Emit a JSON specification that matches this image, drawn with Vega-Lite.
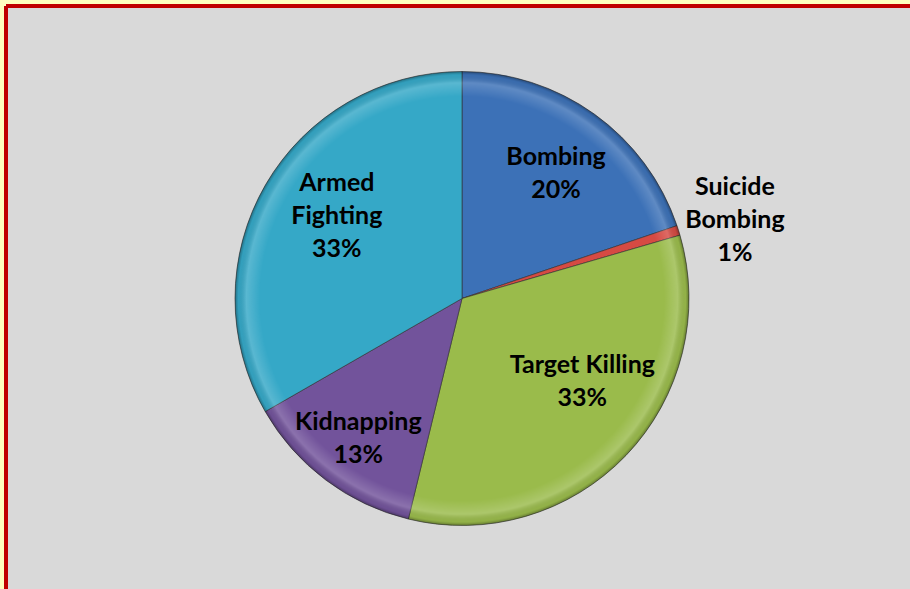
{
  "$schema": "https://vega.github.io/schema/vega-lite/v6.json",
  "autosize": {"type": "none"},
  "width": 912,
  "height": 585,
  "padding": {"left": 6, "top": 6, "right": -8, "bottom": -2},
  "background": "#ffffbf",
  "view": {"fill": "#d9d9d9", "stroke": "#c00000", "strokeWidth": 4, "strokeDash": [912, 1497, 585, 0]},
  "config": {
    "text": {"font": "Lato", "fontWeight": "bold", "fontSize": 25, "lineHeight": 33, "lineBreak": "\n", "fill": "#000000", "align": "center", "baseline": "middle"}
  },
  "datasets": {
    "slices": [
      {"k": 1, "category": "Bombing", "value": 19.8, "label": "Bombing\n20%"},
      {"k": 2, "category": "Suicide Bombing", "value": 0.7, "label": "Suicide\nBombing\n1%"},
      {"k": 3, "category": "Target Killing", "value": 33.3, "label": "Target Killing\n33%"},
      {"k": 4, "category": "Kidnapping", "value": 12.9, "label": "Kidnapping\n13%"},
      {"k": 5, "category": "Armed Fighting", "value": 33.3, "label": "Armed\nFighting\n33%"}
    ],
    "whole": [{"v": 1}]
  },
  "layer": [
    {
      "data": {"name": "slices"},
      "mark": {"type": "arc", "radius": 227, "stroke": "#303030", "strokeWidth": 1, "strokeOpacity": 0.6},
      "encoding": {
        "theta": {"field": "value", "type": "quantitative", "stack": true},
        "order": {"field": "k", "type": "quantitative"},
        "color": {
          "field": "category", "type": "nominal", "legend": null,
          "scale": {
            "domain": ["Bombing", "Suicide Bombing", "Target Killing", "Kidnapping", "Armed Fighting"],
            "range": ["#3c71b7", "#d64a43", "#9abb4b", "#72539b", "#35a8c7"]
          }
        }
      }
    },
    {
      "data": {"name": "whole"},
      "mark": {
        "type": "arc", "radius": 227,
        "fill": {
          "gradient": "radial", "x1": 0.5, "y1": 0.5, "r1": 0, "x2": 0.5, "y2": 0.5, "r2": 0.5,
          "stops": [
            {"offset": 0, "color": "rgba(255,255,255,0)"},
            {"offset": 0.89, "color": "rgba(255,255,255,0)"},
            {"offset": 0.95, "color": "rgba(255,255,255,0.18)"},
            {"offset": 0.985, "color": "rgba(0,0,0,0.05)"},
            {"offset": 1, "color": "rgba(0,0,0,0.35)"}
          ]
        }
      },
      "encoding": {
        "theta": {"field": "v", "type": "quantitative", "stack": true}
      }
    },
    {
      "data": {"name": "slices"},
      "mark": {"type": "text", "radius": 158, "dx": 2, "dy": -13},
      "encoding": {
        "theta": {"field": "value", "type": "quantitative", "stack": true},
        "order": {"field": "k", "type": "quantitative"},
        "text": {"condition": {"test": "datum.k == 1", "field": "label"}, "value": ""}
      }
    },
    {
      "data": {"name": "slices"},
      "mark": {"type": "text", "radius": 150, "dx": 12, "dy": -37.5},
      "encoding": {
        "theta": {"field": "value", "type": "quantitative", "stack": true},
        "order": {"field": "k", "type": "quantitative"},
        "text": {"condition": {"test": "datum.k == 3", "field": "label"}, "value": ""}
      }
    },
    {
      "data": {"name": "slices"},
      "mark": {"type": "text", "radius": 176, "dx": 2, "dy": -17},
      "encoding": {
        "theta": {"field": "value", "type": "quantitative", "stack": true},
        "order": {"field": "k", "type": "quantitative"},
        "text": {"condition": {"test": "datum.k == 4", "field": "label"}, "value": ""}
      }
    },
    {
      "data": {"name": "slices"},
      "mark": {"type": "text", "radius": 155, "dx": 9, "dy": -38},
      "encoding": {
        "theta": {"field": "value", "type": "quantitative", "stack": true},
        "order": {"field": "k", "type": "quantitative"},
        "text": {"condition": {"test": "datum.k == 5", "field": "label"}, "value": ""}
      }
    },
    {
      "data": {"name": "slices"},
      "mark": {"type": "text", "radius": 284, "dx": 2, "dy": -26},
      "encoding": {
        "theta": {"field": "value", "type": "quantitative", "stack": true},
        "order": {"field": "k", "type": "quantitative"},
        "text": {"condition": {"test": "datum.k == 2", "field": "label"}, "value": ""}
      }
    }
  ],
  "resolve": {"scale": {"theta": "independent"}}
}
